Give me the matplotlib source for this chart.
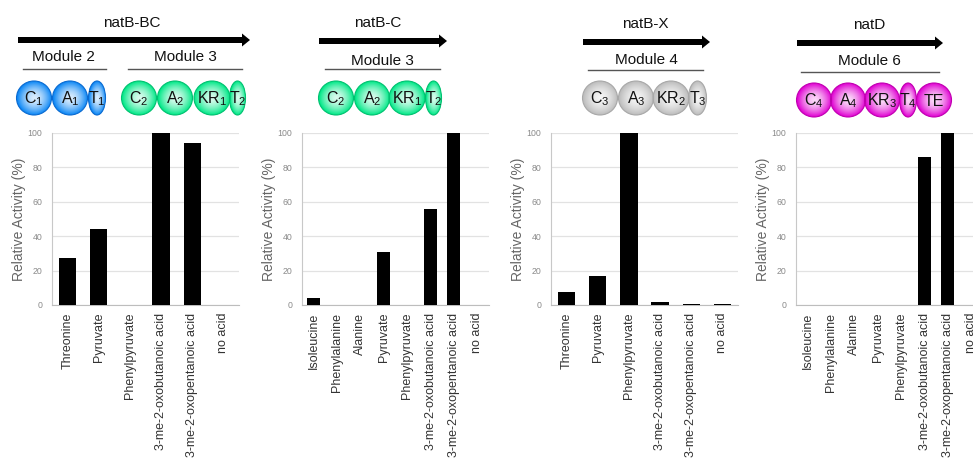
import numpy as np
import matplotlib
matplotlib.use("Agg")
import matplotlib.pyplot as plt
from matplotlib.patches import Ellipse, Polygon, Rectangle
from matplotlib.colors import to_rgb

plt.rcParams['font.family'] = ['Liberation Sans', 'DejaVu Sans']

# ---------------- data ----------------
cats_bc = ['Threonine', 'Pyruvate', 'Phenylpyruvate', '3-me-2-oxobutanoic acid',
           '3-me-2-oxopentanoic acid', 'no acid']
vals_bc = [27.5, 44, 0, 100, 94, 0]

cats_c = ['Isoleucine', 'Phenylalanine', 'Alanine', 'Pyruvate', 'Phenylpyruvate',
          '3-me-2-oxobutanoic acid', '3-me-2-oxopentanoic acid', 'no acid']
vals_c = [4, 0, 0, 31, 0, 56, 100, 0]

cats_x = ['Threonine', 'Pyruvate', 'Phenylpyruvate', '3-me-2-oxobutanoic acid',
          '3-me-2-oxopentanoic acid', 'no acid']
vals_x = [7.5, 17, 100, 1.5, 0.8, 0.8]

cats_d = ['Isoleucine', 'Phenylalanine', 'Alanine', 'Pyruvate', 'Phenylpyruvate',
          '3-me-2-oxobutanoic acid', '3-me-2-oxopentanoic acid', 'no acid']
vals_d = [0, 0, 0, 0, 0, 86, 100, 0]

yticks = [0, 20, 40, 60, 80, 100]
ylabel = 'Relative Activity (%)'

W, H = 973, 462
fig = plt.figure(figsize=(W / 100, H / 100), dpi=100)

# ---------------- diagrams (layout in pixels) ----------------
ov = fig.add_axes([0, 0, 1, 1])
ov.set_axis_off()

colors = {'blue': '#0a86f5', 'green': '#00e887', 'grey': '#bcbcbc', 'mag': '#e000d2'}
edges = {'blue': '#0a6ad0', 'green': '#00c070', 'grey': '#a8a8a8', 'mag': '#c000b0'}

yy, xx = np.mgrid[-1:1:80j, -1:1:80j]
rr = np.clip(np.sqrt(xx ** 2 + yy ** 2), 0, 1)


def domain(cx, cy, rx, ry, ckey, label):
    c = np.array(to_rgb(colors[ckey]))
    t = (0.15 + 0.85 * rr ** 1.6)[..., None]
    img = (1 - t) * np.ones(3) + t * c
    im = ov.imshow(img, extent=[cx - rx, cx + rx, cy + ry, cy - ry],
                   interpolation='bilinear', aspect='auto', zorder=2)
    e = Ellipse((cx, cy), 2 * rx, 2 * ry, transform=ov.transData)
    im.set_clip_path(e)
    ov.add_patch(Ellipse((cx, cy), 2 * rx, 2 * ry, facecolor='none',
                         edgecolor=edges[ckey], lw=0.8, zorder=3))
    ov.text(cx, cy + 1, label, ha='center', va='center', fontsize=11.5,
            color='#111111', zorder=4)


def arrow(x0, x1, y):
    ov.add_patch(Rectangle((x0, y - 3), x1 - x0 - 7, 6, color='black', lw=0, zorder=2))
    ov.add_patch(Polygon([[x1 - 8, y - 6.5], [x1, y], [x1 - 8, y + 6.5]],
                         closed=True, color='black', lw=0, zorder=2))


def module(name, tx, ty, lx0, lx1, ly):
    ov.text(tx, ty, name, ha='center', va='center', fontsize=11, color='#111111')
    ov.plot([lx0, lx1], [ly, ly], color='#555555', lw=1.0)


diagrams = [
    dict(title='natB-BC', tx=132, ty=23, a=(18, 250, 40),
         mods=[('Module 2', 63, 57, 23, 106, 69), ('Module 3', 185, 57, 128, 242, 69)],
         cy=98,
         doms=[(r'$\mathregular{C_1}$', 34, 17.5, 'blue'), (r'$\mathregular{A_1}$', 70, 17.5, 'blue'),
               (r'$\mathregular{T_1}$', 97, 8.5, 'blue'),
               (r'$\mathregular{C_2}$', 139, 17.5, 'green'), (r'$\mathregular{A_2}$', 175, 17.5, 'green'),
               (r'$\mathregular{KR_1}$', 212, 18, 'green'), (r'$\mathregular{T_2}$', 237.5, 8, 'green')]),
    dict(title='natB-C', tx=378, ty=23, a=(319, 447, 41),
         mods=[('Module 3', 382, 61, 325, 440, 69)], cy=98,
         doms=[(r'$\mathregular{C_2}$', 336, 17.5, 'green'), (r'$\mathregular{A_2}$', 372, 17.5, 'green'),
               (r'$\mathregular{KR_1}$', 407, 18, 'green'), (r'$\mathregular{T_2}$', 433.5, 8, 'green')]),
    dict(title='natB-X', tx=645, ty=24, a=(583, 710, 42),
         mods=[('Module 4', 646, 60, 588, 703, 70)], cy=98,
         doms=[(r'$\mathregular{C_3}$', 600, 17.5, 'grey'), (r'$\mathregular{A_3}$', 636, 17.5, 'grey'),
               (r'$\mathregular{KR_2}$', 671, 18, 'grey'), (r'$\mathregular{T_3}$', 697.5, 9, 'grey')]),
    dict(title='natD', tx=869, ty=25, a=(797, 943, 43),
         mods=[('Module 6', 869, 61, 801, 939, 72)], cy=100,
         doms=[(r'$\mathregular{C_4}$', 814, 17.5, 'mag'), (r'$\mathregular{A_4}$', 848, 17.5, 'mag'),
               (r'$\mathregular{KR_3}$', 882, 17.5, 'mag'), (r'$\mathregular{T_4}$', 908, 8.5, 'mag'),
               ('TE', 934, 17.5, 'mag')]),
]

for d in diagrams:
    ov.text(d['tx'], d['ty'], d['title'], ha='center', va='center', fontsize=11, color='#111111')
    arrow(*d['a'])
    for m in d['mods']:
        module(*m)
    for lab, cx, rx, ck in d['doms']:
        domain(cx, d['cy'], rx, 17, ck, lab)

ov.set_xlim(0, W)
ov.set_ylim(H, 0)

# ---------------- bar panels ----------------
panels = [(cats_bc, vals_bc, 52), (cats_c, vals_c, 302), (cats_x, vals_x, 551), (cats_d, vals_d, 796)]
for cats, vals, left in panels:
    ax = fig.add_axes([left / W, 1 - 305 / H, 187 / W, 172 / H])
    x = np.arange(len(cats))
    ax.bar(x, vals, width=0.56, color='black', zorder=3)
    ax.set_xlim(-0.5, len(cats) - 0.5)
    ax.set_ylim(0, 100)
    ax.set_yticks(yticks)
    ax.set_xticks(x)
    ax.set_xticklabels(cats, rotation=90, fontsize=9, color='#333333')
    ax.yaxis.grid(True, color='#e2e2e2', lw=0.9)
    ax.set_axisbelow(True)
    for s in ['top', 'right']:
        ax.spines[s].set_visible(False)
    ax.spines['left'].set_color('#c8c8c8')
    ax.spines['bottom'].set_color('#bdbdbd')
    ax.tick_params(axis='y', length=0, labelsize=6.3, labelcolor='#8a8a8a', pad=7)
    ax.tick_params(axis='x', length=0, pad=5.5)
    ax.set_ylabel(ylabel, fontsize=10, color='#666666', labelpad=1)

fig.savefig('out.png', dpi=100)
